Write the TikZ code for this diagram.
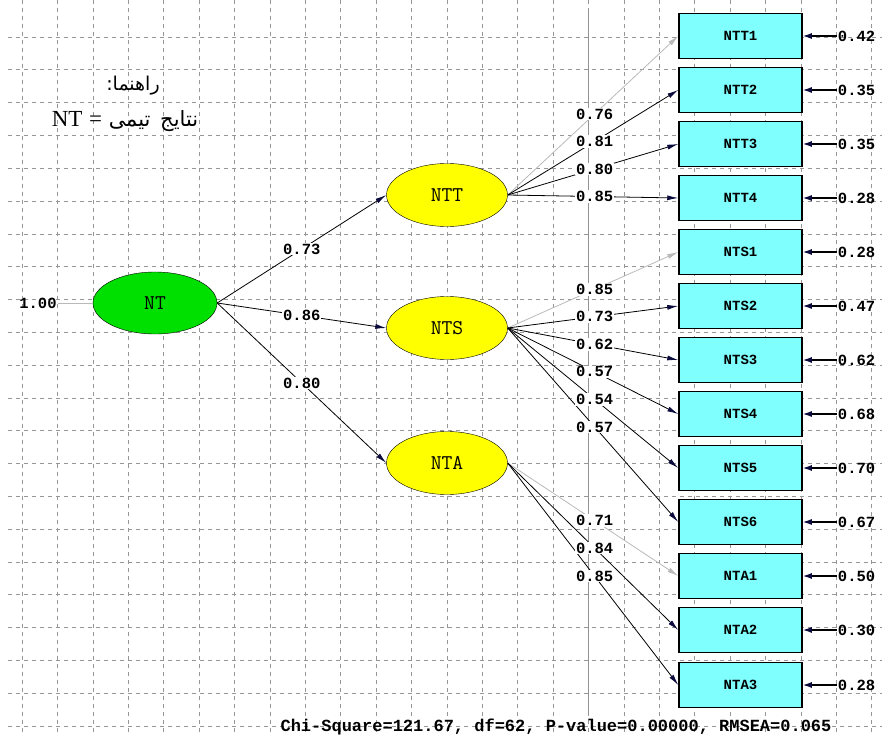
\documentclass[tikz,border=0pt]{standalone}
\usepackage{fontspec}
\setmonofont{Liberation Mono}
\newfontfamily\farsifont[Script=Arabic]{DejaVu Sans}
\newfontfamily\serifrm{Liberation Serif}
\newfontfamily\lmmono{Latin Modern Mono}
\TeXXeTstate=1
\usetikzlibrary{arrows.meta,positioning,shapes.geometric}

\definecolor{boxcyan}{RGB}{128,255,255}
\definecolor{latyellow}{RGB}{255,255,0}
\definecolor{latgreen}{RGB}{0,224,0}
\definecolor{gridgray}{RGB}{150,150,150}
\definecolor{fixgray}{RGB}{185,185,185}
\definecolor{tipnavy}{RGB}{10,10,60}

\tikzset{
  latent/.style={ellipse, draw=black, fill=latyellow, minimum width=121pt, minimum height=63pt, inner sep=0pt, font=\lmmono\fontsize{21}{21}\selectfont},
  observed/.style={rectangle, draw=black, line width=1.5pt, fill=boxcyan, minimum width=123pt, minimum height=45pt, font=\ttfamily\bfseries\fontsize{14}{14}\selectfont},
  lbl/.style={fill=white, inner sep=1pt, font=\ttfamily\bfseries\fontsize{15.5}{15.5}\selectfont},
  errlbl/.style={inner sep=1pt, font=\ttfamily\bfseries\fontsize{15.5}{15.5}\selectfont},
  ldarrow/.style={draw=black, line width=0.8pt, -{Latex[length=11pt,width=5pt,color=tipnavy]}},
  fixarrow/.style={draw=fixgray, line width=0.8pt, -{Latex[length=11pt,width=5pt,color=fixgray]}},
  errarrow/.style={draw=black, line width=1.3pt, -{Latex[length=9pt,width=6pt,color=tipnavy]}},
  gridline/.style={draw=gridgray, dash pattern=on 4pt off 4pt, line width=0.6pt},
}

\begin{document}
\begin{tikzpicture}[x=1pt,y=-1pt]
\useasboundingbox (0,0) rectangle (882,735);

% Background grid
\foreach \gx in {0,...,24}
  \draw[gridline] ({22+35.4*\gx},0) -- ({22+35.4*\gx},735);
\foreach \gy in {0,...,21}
  \draw[gridline] (8,{37+32.8*\gy}) -- (882,{37+32.8*\gy});
\draw[draw=gray!85, line width=0.8pt] (588,8) -- (588,714);

% Legend
\node (guide) at (133,86) {\farsifont\fontsize{19}{19}\selectfont\beginR راهنما\kern0pt :\endR};
\node (key) at (125,121) {\farsifont\fontsize{21}{21}\selectfont\beginR نتایج\hspace{3pt} تیمی {\serifrm\fontsize{23}{23}\selectfont =} \beginL{\serifrm\fontsize{23}{23}\selectfont NT}\endL\endR};

% Latent variables
\node[latent, fill=latgreen, minimum width=124pt, minimum height=62pt] (NT) at (155,303) {NT};
\node[latent] (NTT) at (447,195) {NTT};
\node[latent] (NTS) at (447,328) {NTS};
\node[latent] (NTA) at (447,463) {NTA};
\node[errlbl] (vNT) at (38,303) {1.00};

% Indicators
\node[observed] (NTT1) at (740.5,36) {NTT1};
\node[observed] (NTT2) at (740.5,90) {NTT2};
\node[observed] (NTT3) at (740.5,144) {NTT3};
\node[observed] (NTT4) at (740.5,198) {NTT4};
\node[observed] (NTS1) at (740.5,252) {NTS1};
\node[observed] (NTS2) at (740.5,306) {NTS2};
\node[observed] (NTS3) at (740.5,360) {NTS3};
\node[observed] (NTS4) at (740.5,414) {NTS4};
\node[observed] (NTS5) at (740.5,468) {NTS5};
\node[observed] (NTS6) at (740.5,522) {NTS6};
\node[observed] (NTA1) at (740.5,576) {NTA1};
\node[observed] (NTA2) at (740.5,630) {NTA2};
\node[observed] (NTA3) at (740.5,685) {NTA3};

% Error variances
\node[errlbl, right=34pt of NTT1] (eNTT1) {0.42};
\node[errlbl, right=34pt of NTT2] (eNTT2) {0.35};
\node[errlbl, right=34pt of NTT3] (eNTT3) {0.35};
\node[errlbl, right=34pt of NTT4] (eNTT4) {0.28};
\node[errlbl, right=34pt of NTS1] (eNTS1) {0.28};
\node[errlbl, right=34pt of NTS2] (eNTS2) {0.47};
\node[errlbl, right=34pt of NTS3] (eNTS3) {0.62};
\node[errlbl, right=34pt of NTS4] (eNTS4) {0.68};
\node[errlbl, right=34pt of NTS5] (eNTS5) {0.70};
\node[errlbl, right=34pt of NTS6] (eNTS6) {0.67};
\node[errlbl, right=34pt of NTA1] (eNTA1) {0.50};
\node[errlbl, right=34pt of NTA2] (eNTA2) {0.30};
\node[errlbl, right=34pt of NTA3] (eNTA3) {0.28};

\draw[errarrow] (eNTT1) -- (NTT1.east);
\draw[errarrow] (eNTT2) -- (NTT2.east);
\draw[errarrow] (eNTT3) -- (NTT3.east);
\draw[errarrow] (eNTT4) -- (NTT4.east);
\draw[errarrow] (eNTS1) -- (NTS1.east);
\draw[errarrow] (eNTS2) -- (NTS2.east);
\draw[errarrow] (eNTS3) -- (NTS3.east);
\draw[errarrow] (eNTS4) -- (NTS4.east);
\draw[errarrow] (eNTS5) -- (NTS5.east);
\draw[errarrow] (eNTS6) -- (NTS6.east);
\draw[errarrow] (eNTA1) -- (NTA1.east);
\draw[errarrow] (eNTA2) -- (NTA2.east);
\draw[errarrow] (eNTA3) -- (NTA3.east);

% Second order paths
\draw[draw=fixgray, line width=0.8pt] (vNT) -- (NT.west);
\draw[ldarrow] (NT.east) -- coordinate[pos=.5] (cNTT) (NTT.west);
\draw[ldarrow] (NT.east) -- coordinate[pos=.5] (cNTS) (NTS.west);
\draw[ldarrow] (NT.east) -- coordinate[pos=.5] (cNTA) (NTA.west);

% First order loadings
\draw[fixarrow] (NTT.east) -- coordinate[pos=.51] (cNTT1) (NTT1.west);
\draw[ldarrow] (NTT.east) -- coordinate[pos=.51] (cNTT2) (NTT2.west);
\draw[ldarrow] (NTT.east) -- coordinate[pos=.51] (cNTT3) (NTT3.west);
\draw[ldarrow] (NTT.east) -- coordinate[pos=.51] (cNTT4) (NTT4.west);
\draw[fixarrow] (NTS.east) -- coordinate[pos=.51] (cNTS1) (NTS1.west);
\draw[ldarrow] (NTS.east) -- coordinate[pos=.51] (cNTS2) (NTS2.west);
\draw[ldarrow] (NTS.east) -- coordinate[pos=.51] (cNTS3) (NTS3.west);
\draw[ldarrow] (NTS.east) -- coordinate[pos=.51] (cNTS4) (NTS4.west);
\draw[ldarrow] (NTS.east) -- coordinate[pos=.51] (cNTS5) (NTS5.west);
\draw[ldarrow] (NTS.east) -- coordinate[pos=.51] (cNTS6) (NTS6.west);
\draw[fixarrow] (NTA.east) -- coordinate[pos=.51] (cNTA1) (NTA1.west);
\draw[ldarrow] (NTA.east) -- coordinate[pos=.51] (cNTA2) (NTA2.west);
\draw[ldarrow] (NTA.east) -- coordinate[pos=.51] (cNTA3) (NTA3.west);

% Loading values
\node[lbl] (lNTT) at (cNTT) {0.73};
\node[lbl] (lNTS) at (cNTS) {0.86};
\node[lbl] (lNTA) at (cNTA) {0.80};
\node[lbl] (lNTT1) at (cNTT1) {0.76};
\node[lbl] (lNTT2) at (cNTT2) {0.81};
\node[lbl] (lNTT3) at (cNTT3) {0.80};
\node[lbl] (lNTT4) at (cNTT4) {0.85};
\node[lbl] (lNTS1) at (cNTS1) {0.85};
\node[lbl] (lNTS2) at (cNTS2) {0.73};
\node[lbl] (lNTS3) at (cNTS3) {0.62};
\node[lbl] (lNTS4) at (cNTS4) {0.57};
\node[lbl] (lNTS5) at (cNTS5) {0.54};
\node[lbl] (lNTS6) at (cNTS6) {0.57};
\node[lbl] (lNTA1) at (cNTA1) {0.71};
\node[lbl] (lNTA2) at (cNTA2) {0.84};
\node[lbl] (lNTA3) at (cNTA3) {0.85};

% Fit statistics
\node[font=\ttfamily\bfseries\fontsize{17}{17}\selectfont] (fit) at (556,727) {Chi-Square=121.67, df=62, P-value=0.00000, RMSEA=0.065};
\end{tikzpicture}
\end{document}
